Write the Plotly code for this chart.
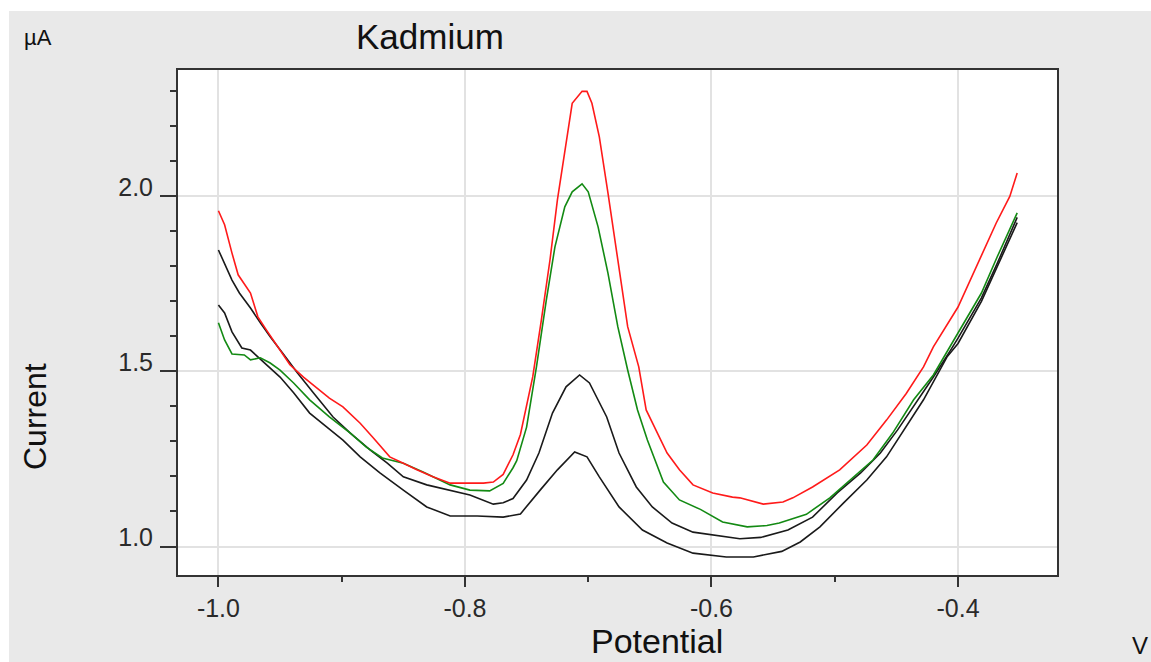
import plotly.graph_objects as go

# Differential pulse voltammograms for cadmium (potential in V, current in µA)
red_x = [-1.000, -0.995, -0.989, -0.984, -0.974, -0.968, -0.961, -0.954, -0.942, -0.931,
         -0.920, -0.910, -0.899, -0.885, -0.875, -0.861, -0.850, -0.839, -0.826, -0.812,
         -0.785, -0.777, -0.769, -0.761, -0.755, -0.745, -0.738, -0.731, -0.725, -0.719,
         -0.713, -0.705, -0.701, -0.697, -0.691, -0.684, -0.676, -0.668, -0.659, -0.653,
         -0.636, -0.626, -0.615, -0.599, -0.583, -0.577, -0.558, -0.542, -0.534, -0.518,
         -0.496, -0.474, -0.458, -0.442, -0.428, -0.420, -0.400, -0.385, -0.369, -0.358,
         -0.352]
red_y = [1.959, 1.919, 1.838, 1.776, 1.724, 1.656, 1.618, 1.581, 1.519, 1.484,
         1.452, 1.424, 1.399, 1.352, 1.313, 1.256, 1.238, 1.219, 1.199, 1.181,
         1.181, 1.184, 1.206, 1.262, 1.320, 1.485, 1.647, 1.819, 1.990, 2.123,
         2.266, 2.300, 2.300, 2.266, 2.170, 2.010, 1.819, 1.628, 1.513, 1.390,
         1.267, 1.219, 1.176, 1.153, 1.141, 1.139, 1.121, 1.127, 1.139, 1.170,
         1.219, 1.290, 1.361, 1.437, 1.513, 1.570, 1.684, 1.800, 1.924, 2.000,
         2.067]

green_x = [-1.000, -0.995, -0.989, -0.979, -0.974, -0.966, -0.958, -0.950, -0.939, -0.926,
           -0.910, -0.893, -0.880, -0.867, -0.850, -0.834, -0.812, -0.796, -0.780, -0.769,
           -0.761, -0.758, -0.750, -0.742, -0.734, -0.727, -0.719, -0.713, -0.705, -0.700,
           -0.692, -0.684, -0.676, -0.668, -0.660, -0.652, -0.639, -0.626, -0.609, -0.591,
           -0.571, -0.555, -0.545, -0.523, -0.504, -0.485, -0.469, -0.453, -0.436, -0.420,
           -0.400, -0.381, -0.368, -0.355, -0.352]
green_y = [1.639, 1.590, 1.550, 1.547, 1.533, 1.539, 1.524, 1.504, 1.467, 1.419,
           1.370, 1.324, 1.284, 1.253, 1.238, 1.213, 1.176, 1.161, 1.159, 1.180,
           1.225, 1.245, 1.341, 1.513, 1.704, 1.856, 1.970, 2.013, 2.036, 2.013,
           1.913, 1.781, 1.628, 1.504, 1.390, 1.304, 1.184, 1.133, 1.106, 1.070,
           1.056, 1.060, 1.067, 1.092, 1.139, 1.199, 1.247, 1.324, 1.419, 1.490,
           1.610, 1.724, 1.829, 1.933, 1.953]

black_a_x = [-1.000, -0.995, -0.989, -0.983, -0.974, -0.966, -0.958, -0.948, -0.936, -0.923,
             -0.907, -0.893, -0.877, -0.863, -0.850, -0.831, -0.812, -0.796, -0.777, -0.769,
             -0.761, -0.750, -0.740, -0.729, -0.718, -0.707, -0.699, -0.685, -0.675, -0.661,
             -0.648, -0.632, -0.615, -0.599, -0.577, -0.560, -0.538, -0.518, -0.498, -0.479,
             -0.463, -0.449, -0.436, -0.420, -0.406, -0.400, -0.381, -0.368, -0.352]
black_a_y = [1.847, 1.809, 1.761, 1.724, 1.681, 1.639, 1.599, 1.553, 1.496, 1.439,
             1.370, 1.324, 1.276, 1.238, 1.199, 1.176, 1.161, 1.147, 1.121, 1.125,
             1.137, 1.190, 1.267, 1.381, 1.456, 1.490, 1.467, 1.370, 1.267, 1.170,
             1.113, 1.067, 1.041, 1.033, 1.022, 1.026, 1.047, 1.084, 1.153, 1.210,
             1.267, 1.333, 1.399, 1.484, 1.561, 1.595, 1.710, 1.810, 1.940]

black_b_x = [-1.000, -0.995, -0.989, -0.981, -0.974, -0.961, -0.950, -0.939, -0.926, -0.912,
             -0.899, -0.885, -0.869, -0.850, -0.831, -0.812, -0.790, -0.769, -0.755, -0.739,
             -0.725, -0.711, -0.701, -0.691, -0.675, -0.656, -0.636, -0.615, -0.588, -0.566,
             -0.543, -0.528, -0.512, -0.493, -0.474, -0.458, -0.442, -0.428, -0.409, -0.400,
             -0.381, -0.368, -0.352]
black_b_y = [1.690, 1.667, 1.613, 1.567, 1.561, 1.519, 1.484, 1.439, 1.381, 1.341,
             1.304, 1.256, 1.210, 1.161, 1.113, 1.087, 1.087, 1.084, 1.093, 1.161,
             1.219, 1.270, 1.256, 1.199, 1.113, 1.047, 1.010, 0.981, 0.970, 0.970,
             0.986, 1.013, 1.056, 1.124, 1.190, 1.256, 1.341, 1.419, 1.541, 1.580,
             1.700, 1.800, 1.925]

x_tick_vals = [-1.0, -0.8, -0.6, -0.4]
x_tick_text = ["-1.0", "-0.8", "-0.6", "-0.4"]
y_tick_vals = [1.0, 1.5, 2.0]
y_tick_text = ["1.0", "1.5", "2.0"]

W, H = 1151, 662
ML, MR, MT, MB = 178, 94, 70, 87
PW, PH = W - ML - MR, H - MT - MB


def paper(px, py):
    """Convert page pixel position to paper coordinates."""
    return (px - ML) / PW, (H - MB - py) / PH


FONT = "Liberation Sans, Arial, sans-serif"
GRAY_BG = "#e9e9e9"

fig = go.Figure()
series = [
    (black_b_x, black_b_y, "#1a1a1a"),
    (black_a_x, black_a_y, "#1a1a1a"),
    (green_x, green_y, "#138a13"),
    (red_x, red_y, "#ff1a1a"),
]
for xs, ys, col in series:
    fig.add_trace(go.Scatter(x=xs, y=ys, mode="lines",
                             line=dict(color=col, width=1.6), showlegend=False))

axis_common = dict(
    showline=True, linecolor="#333333", linewidth=2, mirror=True,
    showgrid=True, gridcolor="#e2e2e2", gridwidth=2, zeroline=False,
    ticks="outside", tickcolor="#333333", tickwidth=2,
    tickfont=dict(family=FONT, size=25, color="#2a2a2a"),
)

fig.update_xaxes(
    range=[-1.0328, -0.3197], tickmode="array",
    tickvals=x_tick_vals, ticktext=x_tick_text, ticklen=10,
    ticklabelstandoff=0,
    minor=dict(ticks="outside", ticklen=5, tickwidth=2, tickcolor="#333333",
               dtick=0.1, tick0=-1.0, showgrid=False),
    **axis_common,
)
fig.update_yaxes(
    range=[0.9186, 2.361], tickmode="array",
    tickvals=y_tick_vals, ticktext=y_tick_text, ticklen=16,
    ticklabelstandoff=2, ticklabelshift=-9,
    minor=dict(ticks="outside", ticklen=6, tickwidth=2, tickcolor="#333333",
               dtick=0.1, tick0=0, showgrid=False),
    **axis_common,
)

# white strip along the top and left edges of the page
x_left, y_top = paper(0, 0)
x_gray, y_gray = paper(9, 11)
x_right, y_bottom = paper(W, H)
shapes = [
    dict(type="rect", xref="paper", yref="paper", x0=x_left, x1=x_gray,
         y0=y_bottom, y1=y_top, fillcolor="white", line=dict(width=0)),
    dict(type="rect", xref="paper", yref="paper", x0=x_left, x1=x_right,
         y0=y_gray, y1=y_top, fillcolor="white", line=dict(width=0)),
]

labels = [
    ("µA", 38, 38, 22, 0),
    ("Kadmium", 430, 37, 35, 0),
    ("Current", 35, 417, 32, -90),
    ("Potential", 657, 641, 34, 0),
    ("V", 1140, 645, 24, 0),
]
annotations = []
for text, px, py, size, angle in labels:
    ax_, ay_ = paper(px, py)
    annotations.append(dict(
        text=text, x=ax_, y=ay_, xref="paper", yref="paper",
        xanchor="center", yanchor="middle", showarrow=False, textangle=angle,
        font=dict(family=FONT, size=size, color="#111111"),
    ))

fig.update_layout(
    width=W, height=H, autosize=False,
    margin=dict(l=ML, r=MR, t=MT, b=MB, pad=0),
    paper_bgcolor=GRAY_BG, plot_bgcolor="white",
    shapes=shapes, annotations=annotations,
)

fig.write_html("out.html")
